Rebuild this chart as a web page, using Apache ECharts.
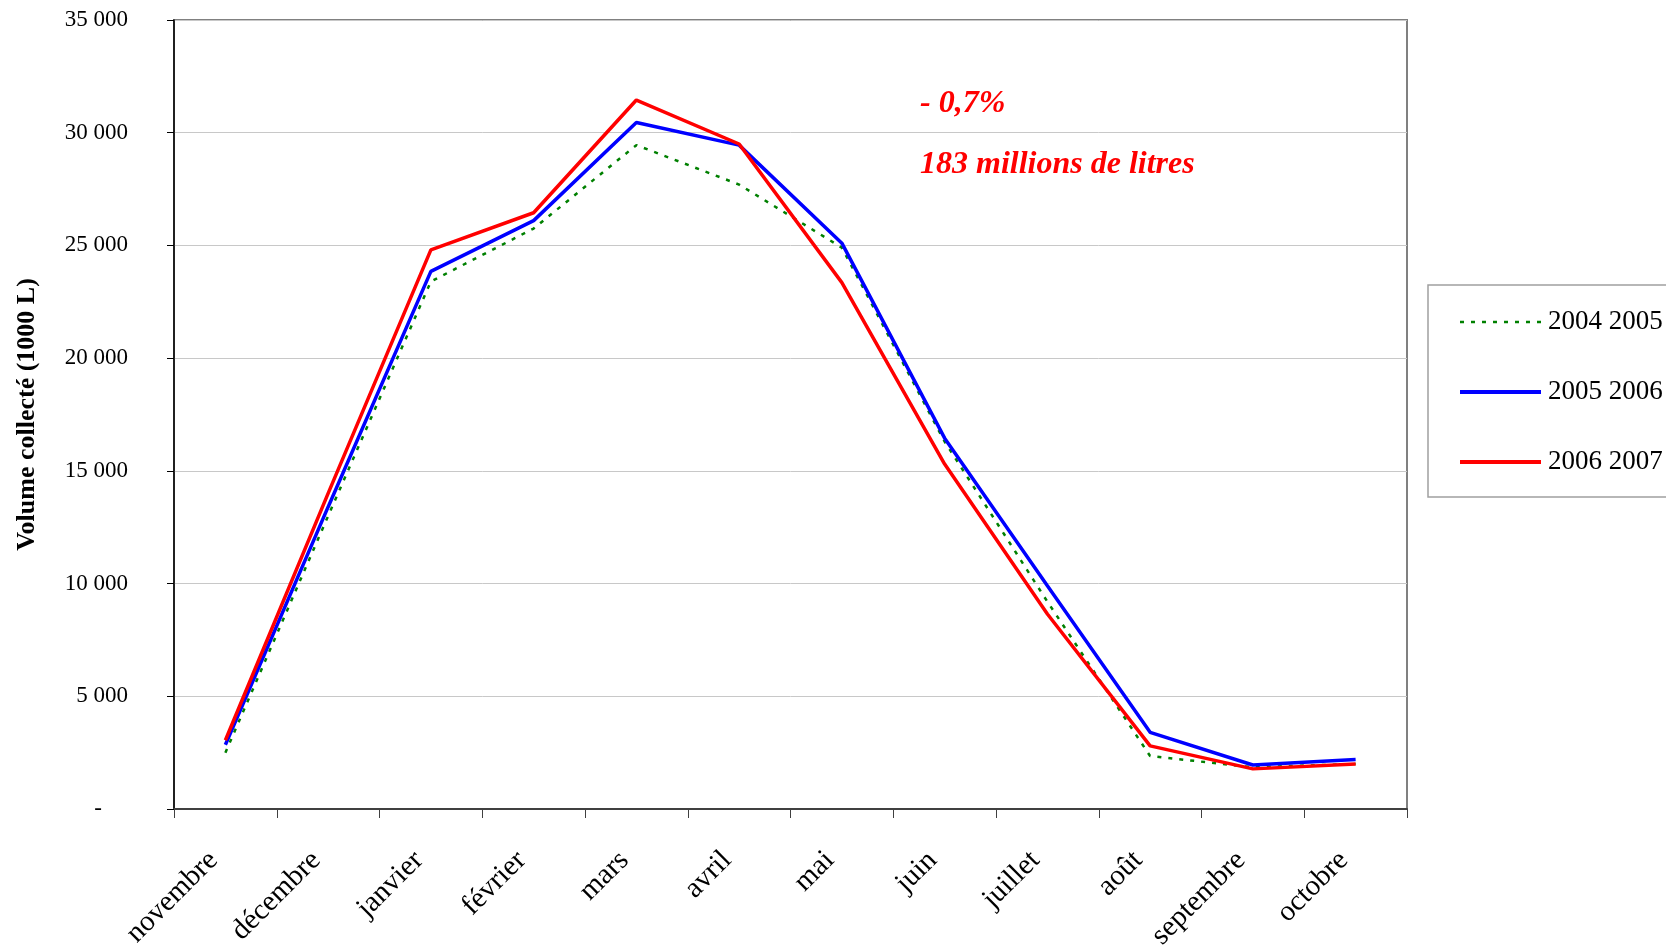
<!DOCTYPE html>
<html>
<head>
<meta charset="utf-8">
<style>
  html, body { margin: 0; padding: 0; background: #fff; }
  #chart { width: 1666px; height: 946px; }
</style>
<script src="https://cdn.jsdelivr.net/npm/echarts@6/dist/echarts.min.js"></script>
</head>
<body>
<div id="chart"></div>
<script>
var months = ['novembre', 'décembre', 'janvier', 'février', 'mars', 'avril', 'mai', 'juin', 'juillet', 'août', 'septembre', 'octobre'];
var seriesNames = ['2004 2005', '2005 2006', '2006 2007'];
var vol0405 = [2500, 13000, 23400, 25750, 29450, 27700, 24900, 16300, 9200, 2350, 1850, 2000];
var vol0506 = [2850, 13400, 23850, 26100, 30450, 29450, 25100, 16450, 9900, 3400, 1950, 2200];
var vol0607 = [3050, 14000, 24800, 26450, 31450, 29500, 23350, 15300, 8650, 2800, 1780, 2000];
var noteLines = ['- 0,7%', '183 millions de litres'];

var serif = 'Liberation Serif, Times New Roman, serif';

function fmtThousands(v) {
  if (v === 0) return '{dash|-}';
  return String(v).replace(/\B(?=(\d{3})+(?!\d))/g, ' ');
}

var chart = echarts.init(document.getElementById('chart'), null, { renderer: 'canvas' });
chart.setOption({
  animation: false,
  backgroundColor: '#ffffff',
  textStyle: { fontFamily: serif, color: '#000' },
  grid: {
    left: 174, right: 259, top: 20, bottom: 137,
    outerBoundsMode: 'none',
    containLabel: false,
    show: true, borderColor: '#808080', borderWidth: 2, backgroundColor: 'transparent'
  },
  legend: {
    orient: 'vertical',
    left: 1428, top: 285,
    padding: [22, 40, 20, 30],
    itemWidth: 81, itemHeight: 14, itemGap: 40,
    borderColor: '#a0a0a0', borderWidth: 1.5,
    backgroundColor: '#fff',
    itemStyle: { opacity: 0 },
    textStyle: { fontFamily: serif, fontSize: 27, lineHeight: 30, color: '#000', padding: [0, 0, 0, 2] },
    data: [
      { name: seriesNames[0], lineStyle: { width: 2.5 } },
      { name: seriesNames[1], lineStyle: { width: 4 } },
      { name: seriesNames[2], lineStyle: { width: 4 } }
    ]
  },
  xAxis: {
    type: 'category',
    data: months,
    boundaryGap: true,
    axisLine: { lineStyle: { color: '#404040', width: 2 } },
    axisTick: { show: true, length: 9, lineStyle: { color: '#404040', width: 1 } },
    axisLabel: { rotate: 45, margin: 35, padding: [0, 17, 0, 0], fontFamily: serif, fontSize: 29, color: '#000', interval: 0 },
    splitLine: { show: false }
  },
  yAxis: {
    type: 'value',
    min: 0, max: 35000, interval: 5000,
    name: 'Volume collecté (1000 L)',
    nameLocation: 'middle',
    nameGap: 134,
    nameTextStyle: { fontFamily: serif, fontSize: 26, fontWeight: 'bold', color: '#000' },
    axisLine: { show: true, lineStyle: { color: '#000', width: 1.5 } },
    axisTick: { show: true, length: 7, lineStyle: { color: '#000' } },
    axisLabel: {
      margin: 46, fontFamily: serif, fontSize: 23, color: '#000',
      formatter: fmtThousands,
      rich: { dash: { fontFamily: serif, fontSize: 23, padding: [0, 26, 0, 0] } }
    },
    splitLine: { lineStyle: { color: '#c8c8c8', width: 1 } }
  },
  graphic: [
    { type: 'text', left: 920, top: 88, style: { text: noteLines[0], fill: '#ff0000', font: 'italic bold 32px ' + serif } },
    { type: 'text', left: 920, top: 149, style: { text: noteLines[1], fill: '#ff0000', font: 'italic bold 32px ' + serif } }
  ],
  series: [
    {
      name: seriesNames[0], type: 'line', data: vol0405, symbol: 'none', z: 2,
      lineStyle: { color: '#008000', width: 2.5, type: [4, 7] },
      itemStyle: { color: '#008000' }
    },
    {
      name: seriesNames[1], type: 'line', data: vol0506, symbol: 'none', z: 3,
      lineStyle: { color: '#0000ff', width: 3.5 },
      itemStyle: { color: '#0000ff' }
    },
    {
      name: seriesNames[2], type: 'line', data: vol0607, symbol: 'none', z: 4,
      lineStyle: { color: '#ff0000', width: 3.5 },
      itemStyle: { color: '#ff0000' }
    }
  ]
});
window.addEventListener('resize', function() { chart.resize(); });
</script>
</body>
</html>
